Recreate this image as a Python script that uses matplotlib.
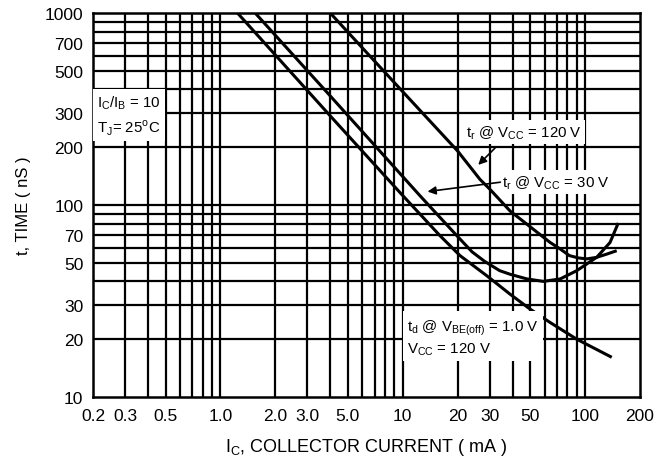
import matplotlib
matplotlib.use("Agg")
import matplotlib.pyplot as plt

plt.rcParams['font.family'] = ['Liberation Sans', 'DejaVu Sans']
plt.rcParams['mathtext.fontset'] = 'custom'
plt.rcParams['mathtext.rm'] = 'Liberation Sans'

# datos (corriente de colector en mA, tiempo en nS)
ic_tr120 = [4.0, 10, 20, 26.5, 30, 38.8, 50, 64, 73, 82, 92, 102, 115, 130, 149]
t_tr120 = [1000, 389, 191, 136, 121, 93, 77, 64, 59, 54.5, 53, 52.4, 53.3, 55.3, 57.8]

ic_tr30 = [1.55, 3.99, 12.4, 19.8, 24, 28, 34, 39, 48, 59, 73, 90, 116, 137, 152]
t_tr30 = [1000, 371, 112, 69.2, 57, 51, 45.5, 43.5, 41.2, 40.0, 41.2, 45.5, 53.5, 63.8, 80.6]

ic_td = [1.24, 3.99, 9.66, 16, 20.6, 28.9, 38.8, 49.9, 64, 90, 140]
t_td = [1000, 292, 116, 69.2, 54.5, 42.8, 34.3, 28.7, 24.5, 20.0, 16.1]

xticks = [0.2, 0.3, 0.5, 1, 2, 3, 5, 10, 20, 30, 50, 100, 200]
xlabels = ["0.2", "0.3", "0.5", "1.0", "2.0", "3.0", "5.0", "10", "20", "30", "50", "100", "200"]
yticks = [10, 20, 30, 50, 70, 100, 200, 300, 500, 700, 1000]
ylabels = ["10", "20", "30", "50", "70", "100", "200", "300", "500", "700", "1000"]

# lineas de la rejilla
xgrid = [0.3, 0.4, 0.5, 0.6, 0.7, 0.8, 0.9, 1, 2, 3, 4, 5, 6, 7, 8, 9,
         10, 20, 30, 40, 50, 60, 70, 80, 90, 100]
ygrid = [20, 30, 40, 50, 60, 70, 80, 90, 100, 200, 300, 400, 500, 600, 700, 800, 900]

fig = plt.figure(figsize=(6.61, 4.64), dpi=100)
ax = fig.add_axes([93/661, 1-398/464, 547/661, 384/464])
ax.set_xscale('log')
ax.set_yscale('log')
ax.set_xlim(0.2, 200)
ax.set_ylim(10, 1000)

for v in xgrid:
    ax.axvline(v, color='black', lw=1.6, zorder=1)
for v in ygrid:
    ax.axhline(v, color='black', lw=1.6, zorder=1)

for x, y in [(ic_tr120, t_tr120), (ic_tr30, t_tr30), (ic_td, t_td)]:
    ax.plot(x, y, color='black', lw=2.2, zorder=3, solid_joinstyle='round',
            solid_capstyle='butt')

ax.set_xticks(xticks)
ax.set_xticklabels(xlabels)
ax.set_yticks(yticks)
ax.set_yticklabels(ylabels)
ax.minorticks_off()
ax.tick_params(length=0, labelsize=12.5)
ax.tick_params(axis='x', pad=8)
ax.tick_params(axis='y', pad=7)
for s in ax.spines.values():
    s.set_linewidth(1.8)

box = dict(facecolor='white', edgecolor='none', pad=2)
ax.text(0.21, 295, 'I$_{\\rm C}$/I$_{\\rm B}$ = 10\nT$_{\\rm J}$= 25$^{\\rm o}$C', fontsize=10.8,
        va='center', ha='left', bbox=dict(facecolor='white', edgecolor='none', pad=3),
        zorder=4, linespacing=1.45)
ax.text(46.3, 240, 't$_{\\rm r}$ @ V$_{\\rm CC}$ = 120 V', fontsize=10.8, ha='center',
        va='center', bbox=box, zorder=4)
ax.text(69, 132, 't$_{\\rm r}$ @ V$_{\\rm CC}$ = 30 V', fontsize=10.8, ha='center',
        va='center', bbox=box, zorder=4)
ax.text(10.6, 20.5, 't$_{\\rm d}$ @ V$_{\\rm BE(off)}$ = 1.0 V\nV$_{\\rm CC}$ = 120 V', fontsize=10.8,
        ha='left', va='center', bbox=dict(facecolor='white', edgecolor='none', pad=3),
        zorder=4, linespacing=1.3)

ax.annotate('', xy=(25.3, 158), xytext=(32.9, 203),
            arrowprops=dict(arrowstyle='-|>', color='black', lw=1.2, mutation_scale=12),
            zorder=5)
ax.annotate('', xy=(13.2, 117), xytext=(35.5, 132),
            arrowprops=dict(arrowstyle='-|>', color='black', lw=1.2, mutation_scale=12),
            zorder=5)

ax.set_xlabel('I$_{\\rm C}$, COLLECTOR CURRENT ( mA )', fontsize=13, labelpad=9)
ax.set_ylabel('t, TIME ( nS )', fontsize=12, labelpad=10)

fig.savefig('out.png', dpi=100)
